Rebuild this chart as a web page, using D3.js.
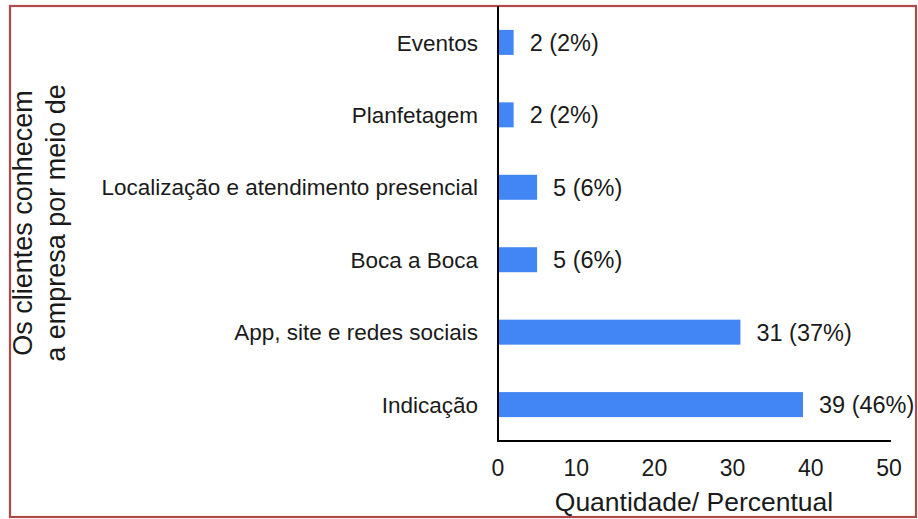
<!DOCTYPE html>
<html><head><meta charset="utf-8">
<script src="https://cdn.jsdelivr.net/npm/d3@7"></script>
<style>body{margin:0;background:#fff;} text{font-family:"Liberation Sans",Arial,sans-serif;fill:#1a1a1a;}</style>
</head><body>
<svg id="chart" width="918" height="519"></svg>
<script>
const categories = ["Eventos","Planfetagem","Localização e atendimento presencial","Boca a Boca","App, site e redes sociais","Indicação"];
const values = [2,2,5,5,31,39];
const percents = ["2%","2%","6%","6%","37%","46%"];
const xTicks = [0,10,20,30,40,50];
const xTitle = "Quantidade/ Percentual";
const yTitleLines = ["Os clientes conhecem","a empresa por meio de"];

const svg = d3.select("#chart");
svg.append("rect").attr("x",10).attr("y",6).attr("width",906).attr("height",511)
  .attr("fill","none").attr("stroke","#b04a4a").attr("stroke-width",2.2);

const x = d3.scaleLinear().domain([0,50]).range([498,889]);
const y = d3.scaleBand().domain(categories).range([6,441]).paddingInner(0.655).paddingOuter(0.33);

svg.selectAll(".bar").data(categories).enter().append("rect")
  .attr("x",x(0)).attr("y",d=>y(d)).attr("width",(d,i)=>x(values[i])-x(0)).attr("height",y.bandwidth())
  .attr("fill","#4285f4");

svg.selectAll(".val").data(categories).enter().append("text")
  .attr("x",(d,i)=>x(values[i])+16).attr("y",d=>y(d)+y.bandwidth()/2).attr("dy","0.36em")
  .attr("font-size",23.5).text((d,i)=>values[i]+" ("+percents[i]+")");

svg.selectAll(".cat").data(categories).enter().append("text")
  .attr("x",478).attr("y",d=>y(d)+y.bandwidth()/2).attr("dy","0.36em").attr("text-anchor","end")
  .attr("font-size",22.5).text(d=>d);

// axes lines
svg.append("line").attr("x1",x(0)).attr("x2",x(0)).attr("y1",6).attr("y2",441).attr("stroke","#000").attr("stroke-width",2);
svg.append("line").attr("x1",x(0)-1).attr("x2",891).attr("y1",441).attr("y2",441).attr("stroke","#000").attr("stroke-width",2);

svg.selectAll(".tick").data(xTicks).enter().append("text")
  .attr("x",d=>x(d)).attr("y",476).attr("text-anchor","middle").attr("font-size",23).text(d=>d);

svg.append("text").attr("x",694).attr("y",511).attr("text-anchor","middle").attr("font-size",26.5).text(xTitle);

const yt = svg.append("text").attr("transform","translate(32,223) rotate(-90)").attr("text-anchor","middle").attr("font-size",27);
yTitleLines.forEach((t,i)=>yt.append("tspan").attr("x",0).attr("dy",i===0?0:33).text(t));
</script>
</body></html>
